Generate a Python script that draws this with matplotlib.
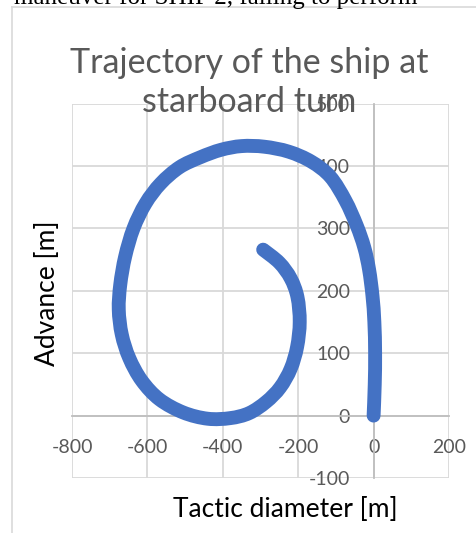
import matplotlib.pyplot as plt
from matplotlib.lines import Line2D
from matplotlib.path import Path
from matplotlib.patches import PathPatch

# Turning circle track of the ship (starboard turn)
tactic_x = [0, 3, 4, 2, -3, -12, -25, -45, -75, -115, -165, -225, -290, -350,
            -405, -460, -515, -565, -605, -637, -659, -672, -676, -668, -648,
            -615, -568, -505, -440, -380, -330, -285, -248, -220, -203, -196,
            -202, -220, -250, -293]
advance_y = [0, 50, 100, 150, 192, 234, 270, 305, 345, 383, 407, 423, 431, 432,
             426, 414, 398, 372, 340, 300, 255, 210, 170, 130, 92,
             56, 26, 5, -5, -4, 4, 22, 45, 75, 110, 150,
             190, 220, 245, 266]

x_ticks = [-800, -600, -400, -200, 0, 200]
y_ticks = [-100, 0, 100, 200, 300, 400, 500]

plt.rcParams['font.family'] = ['Lato', 'DejaVu Sans']
plt.rcParams['axes.unicode_minus'] = False


def smooth_path(xs, ys):
    # smoothed line through the points (Catmull-Rom as cubic Bezier segments)
    pts = list(zip(xs, ys))
    verts = [pts[0]]
    codes = [Path.MOVETO]
    n = len(pts)
    for i in range(n - 1):
        p0 = pts[max(i - 1, 0)]
        p1 = pts[i]
        p2 = pts[i + 1]
        p3 = pts[min(i + 2, n - 1)]
        c1 = (p1[0] + (p2[0] - p0[0]) / 6, p1[1] + (p2[1] - p0[1]) / 6)
        c2 = (p2[0] - (p3[0] - p1[0]) / 6, p2[1] - (p3[1] - p1[1]) / 6)
        verts += [c1, c2, p2]
        codes += [Path.CURVE4] * 3
    return Path(verts, codes)


fig = plt.figure(figsize=(4.76, 5.33), dpi=100)
ax = fig.add_axes([0.1513, 0.1032, 0.792, 0.7023])

track = PathPatch(smooth_path(tactic_x, advance_y), fill=False, edgecolor='#4472C4',
                  lw=10, capstyle='round', joinstyle='round', zorder=3)
ax.add_patch(track)

ax.set_xlim(-800, 200)
ax.set_ylim(-100, 500)
ax.set_xticks(x_ticks)
ax.set_yticks(y_ticks)
ax.grid(True, color='#d9d9d9', lw=1.3)
ax.set_axisbelow(True)

for side in ['top', 'right']:
    ax.spines[side].set_visible(False)
for side in ['bottom', 'left']:
    ax.spines[side].set_position(('data', 0))
    ax.spines[side].set_color('#bfbfbf')
    ax.spines[side].set_linewidth(1.3)
    ax.spines[side].set_zorder(2)
ax.tick_params(axis='x', length=0, pad=17, labelsize=14, labelcolor='#595959')
ax.tick_params(axis='y', length=0, pad=17, labelsize=14, labelcolor='#595959')

fig.text(0.523, 0.845, 'Trajectory of the ship at\nstarboard turn', ha='center',
         va='center', fontsize=24.5, color='#595959', linespacing=1.25)
fig.text(0.1, 0.45, 'Advance [m]', rotation=90, ha='center', va='center',
         fontsize=19, color='black')
fig.text(0.6, 0.045, 'Tactic diameter [m]', ha='center', va='center',
         fontsize=19, color='black')

# text of the page above the chart, cut at the top edge
fig.text(0.03, 1 - 4 / 533, 'maneuver for SHIP 2, failing to perform',
         family='Liberation Serif', fontsize=18, va='baseline', color='black')

# chart border
fig.add_artist(Line2D([12 / 476, 12 / 476], [0, 1 - 7 / 533], color='#d9d9d9', lw=1.2))
fig.add_artist(Line2D([12 / 476, 1], [1 - 7 / 533, 1 - 7 / 533], color='#d9d9d9', lw=1.2))

fig.savefig('out.png', dpi=100)
